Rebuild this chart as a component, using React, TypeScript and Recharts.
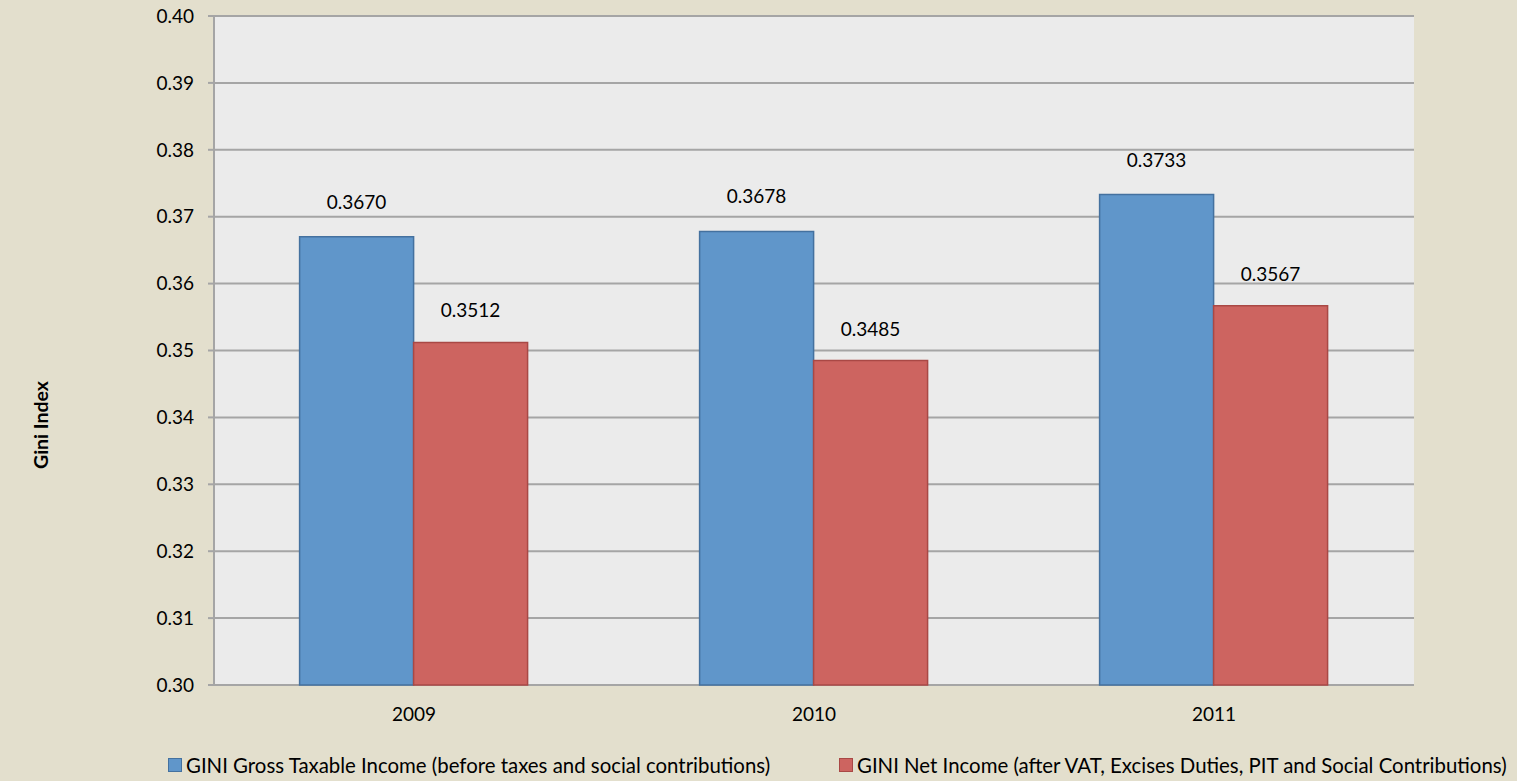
import React from 'react';
import { BarChart, Bar, XAxis, YAxis, CartesianGrid, Legend, LabelList, Label } from 'recharts';

const years = ['2009', '2010', '2011'];
const grossGini = [0.367, 0.3678, 0.3733];
const netGini = [0.3512, 0.3485, 0.3567];
const yTicks = [0.3, 0.31, 0.32, 0.33, 0.34, 0.35, 0.36, 0.37, 0.38, 0.39, 0.4];
const edgeTicks = [0, 1, 2, 3];

const grossName = 'GINI Gross Taxable Income (before taxes and social contributions)';
const netName = 'GINI Net Income (after VAT, Excises Duties, PIT and Social Contributions)';

const data = years.map((year, i) => ({ year, gross: grossGini[i], net: netGini[i] }));

const FONT = 'Lato, "Open Sans", sans-serif';
const BG = '#e3dfcd';
const BLUE = '#6096ca';
const BLUE_EDGE = '#44719f';
const RED = '#cd6460';
const RED_EDGE = '#a94845';
const GRID = '#a5a5a5';

const fmt = (v: number) => v.toFixed(4);

const LegendBox = () => (
  <div style={{ position: 'relative', width: 1517, height: 30, fontFamily: FONT, fontSize: 20.4, color: '#000' }}>
    {[
      { left: 168, fill: BLUE, edge: BLUE_EDGE, text: grossName },
      { left: 839, fill: RED, edge: RED_EDGE, text: netName },
    ].map((it) => (
      <div key={it.text} style={{ position: 'absolute', left: it.left, top: 0, display: 'flex', alignItems: 'center', whiteSpace: 'nowrap' }}>
        <span style={{ display: 'inline-block', width: 12, height: 12, background: it.fill, border: `1px solid ${it.edge}`, marginRight: 4 }} />
        <span>{it.text}</span>
      </div>
    ))}
  </div>
);

export default function App() {
  return (
    <div style={{ position: 'absolute', left: 0, top: 0, width: 1517, height: 781, background: BG, overflow: 'hidden' }}>
      <BarChart
        width={1517}
        height={781}
        data={data}
        margin={{ top: 16, right: 103, bottom: 26, left: 0 }}
        barCategoryGap="21.4%"
        barGap={0}
      >
        <CartesianGrid vertical={false} stroke={GRID} strokeWidth={2} fill="#ebebeb" xAxisId="cat" />
        <XAxis
          xAxisId="edge"
          type="number"
          domain={[0, 3]}
          ticks={edgeTicks}
          allowDataOverflow
          height={0}
          axisLine={{ stroke: GRID, strokeWidth: 2 }}
          tickLine={{ stroke: GRID, strokeWidth: 2 }}
          tickSize={6}
          tickFormatter={() => ''}
        />
        <XAxis
          xAxisId="cat"
          dataKey="year"
          height={40}
          axisLine={false}
          tickLine={false}
          tickMargin={17}
          tick={{ fill: '#000', fontSize: 19, fontFamily: FONT }}
        />
        <YAxis
          width={214}
          domain={[0.3, 0.4]}
          ticks={yTicks}
          interval={0}
          tickFormatter={(v: number) => v.toFixed(2)}
          axisLine={{ stroke: GRID, strokeWidth: 2 }}
          tickLine={{ stroke: GRID, strokeWidth: 2 }}
          tickSize={6}
          tickMargin={14}
          tick={{ fill: '#000', fontSize: 19, fontFamily: FONT }}
        >
          <Label
            content={() => (
              <text
                transform="translate(40,425) rotate(-90)"
                textAnchor="middle"
                dominantBaseline="central"
                fontFamily={FONT}
                fontSize={19.5}
                fontWeight="bold"
                fill="#000"
              >
                Gini Index
              </text>
            )}
          />
        </YAxis>
        <Legend
          height={30}
          content={() => <LegendBox />}
          wrapperStyle={{ left: 0, top: 753, width: 1517 }}
        />
        <Bar xAxisId="cat" dataKey="gross" name={grossName} fill={BLUE} stroke={BLUE_EDGE} strokeWidth={1.5} isAnimationActive={false}>
          <LabelList dataKey="gross" position="top" offset={28} formatter={fmt} fill="#000" fontSize={19} fontFamily={FONT} />
        </Bar>
        <Bar xAxisId="cat" dataKey="net" name={netName} fill={RED} stroke={RED_EDGE} strokeWidth={1.5} isAnimationActive={false}>
          <LabelList dataKey="net" position="top" offset={25} formatter={fmt} fill="#000" fontSize={19} fontFamily={FONT} />
        </Bar>
      </BarChart>
    </div>
  );
}
